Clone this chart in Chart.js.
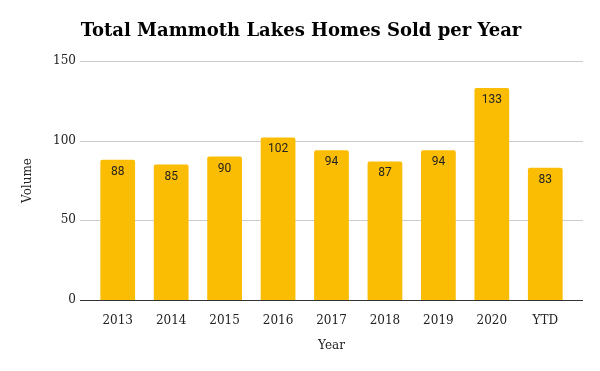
<!DOCTYPE html>
<html lang="en">
<head>
  <meta charset="UTF-8">
  <title>Total Mammoth Lakes Homes Sold per Year</title>
  <script src="https://cdn.jsdelivr.net/npm/chart.js"></script>
  <style>
    html, body { margin: 0; padding: 0; background: #fff; }
    #wrap { width: 600px; height: 371px; position: relative; }
  </style>
</head>
<body>
  <div id="wrap"><canvas id="salesChart"></canvas></div>

  <script>
    // Chart data
    const years = ['2013', '2014', '2015', '2016', '2017', '2018', '2019', '2020', 'YTD'];
    const homesSold = [88, 85, 90, 102, 94, 87, 94, 133, 83];
    const yTicks = [0, 50, 100, 150];

    const serif = "'DejaVu Serif', 'Liberation Serif', serif";

    // title, grid lines that run past the bars, and value labels
    const extras = {
      id: 'extras',
      beforeDatasetsDraw(chart) {
        const ctx = chart.ctx;
        const y = chart.scales.y;
        ctx.save();
        yTicks.forEach(v => {
          const py = Math.round(y.getPixelForValue(v)) + 0.5;
          ctx.strokeStyle = v === 0 ? '#333333' : '#cccccc';
          ctx.lineWidth = 1;
          ctx.beginPath();
          ctx.moveTo(80, py);
          ctx.lineTo(583, py);
          ctx.stroke();
        });
        ctx.restore();
      },
      afterDatasetsDraw(chart) {
        const ctx = chart.ctx;
        ctx.save();
        ctx.font = '12px Roboto, sans-serif';
        ctx.fillStyle = '#222222';
        ctx.textAlign = 'center';
        ctx.textBaseline = 'middle';
        chart.getDatasetMeta(0).data.forEach((bar, i) => {
          ctx.fillText(homesSold[i], bar.x, bar.y + 12);
        });
        ctx.font = 'bold 18px ' + serif;
        ctx.fillStyle = '#000000';
        ctx.fillText('Total Mammoth Lakes Homes Sold per Year', 301, 31);
        ctx.restore();
      }
    };

    const ctx = document.getElementById('salesChart').getContext('2d');
    new Chart(ctx, {
      type: 'bar',
      data: {
        labels: years,
        datasets: [{
          data: homesSold,
          backgroundColor: '#fbbc04',
          borderRadius: 2,
          borderSkipped: 'bottom',
          categoryPercentage: 1,
          barPercentage: 0.65
        }]
      },
      options: {
        responsive: true,
        maintainAspectRatio: false,
        animation: false,
        layout: { padding: { top: 61, left: 0, right: 28, bottom: 0 } },
        plugins: {
          legend: { display: false },
          tooltip: { enabled: false }
        },
        scales: {
          x: {
            grid: { display: false },
            border: { display: false },
            ticks: { color: '#222', padding: 6, font: { family: serif, size: 12 } },
            title: {
              display: true, text: 'Year', color: '#222',
              font: { family: serif, size: 12 },
              padding: { top: 0, bottom: 18 }
            },
            afterFit(scale) { scale.height = 71; }
          },
          y: {
            min: 0,
            max: 150,
            grid: { display: false, drawTicks: false },
            border: { display: false },
            afterBuildTicks(scale) { scale.ticks = yTicks.map(v => ({ value: v })); },
            ticks: { color: '#222', padding: 15, font: { family: serif, size: 12 } },
            title: {
              display: true, text: 'Volume', color: '#222',
              font: { family: serif, size: 12 },
              padding: { top: 21, bottom: 0 }
            },
            afterFit(scale) { scale.width = 91; }
          }
        }
      },
      plugins: [extras]
    });
  </script>
</body>
</html>
